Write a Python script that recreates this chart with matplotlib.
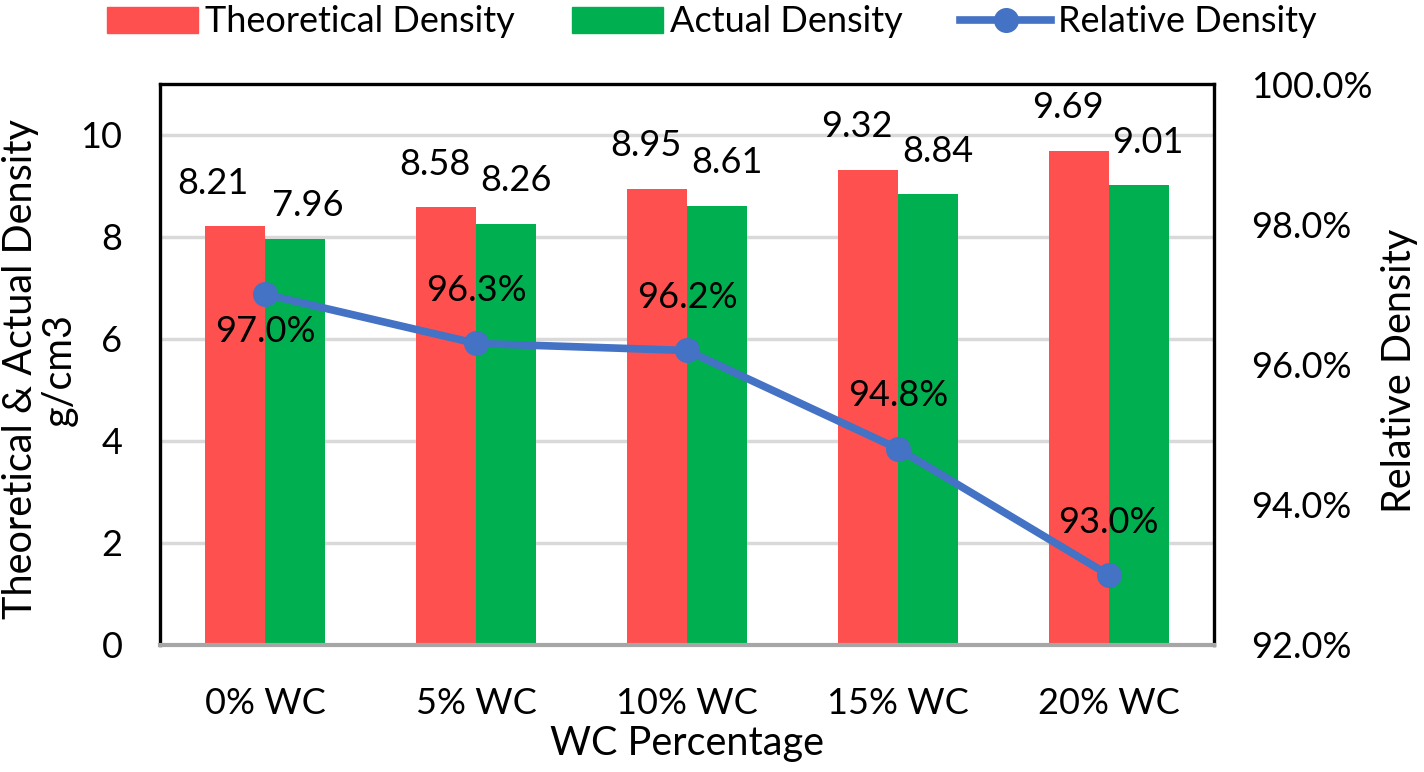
import matplotlib
matplotlib.use("Agg")
import matplotlib.pyplot as plt
import numpy as np
from matplotlib.lines import Line2D
from matplotlib.patches import Patch

categories = ["0% WC", "5% WC", "10% WC", "15% WC", "20% WC"]
theoretical = [8.21, 8.58, 8.95, 9.32, 9.69]
actual = [7.96, 8.26, 8.61, 8.84, 9.01]
relative = [97.0, 96.3, 96.2, 94.8, 93.0]

plt.rcParams['font.family'] = ['Lato', 'DejaVu Sans']
FS = 26
FS_LEG = 26
FS_TITLE = 28.5

RED = "#FF5050"
GREEN = "#00B050"
BLUE = "#4472C4"

fig = plt.figure(figsize=(14.24, 7.72), dpi=100)
ax = fig.add_axes([160/1424, 1-645/772, (1214-160)/1424, (645-84)/772])
x = np.arange(len(categories))
w = 0.285

ax.set_xlim(-0.5, len(categories)-0.5)
ax.set_ylim(0, 11)
ax.set_yticks([0, 2, 4, 6, 8, 10])
for yv in [2, 4, 6, 8, 10]:
    ax.axhline(yv, color="#D9D9D9", lw=2.5, zorder=0)

ax.bar(x - w/2, theoretical, w, color=RED, zorder=2)
ax.bar(x + w/2, actual, w, color=GREEN, zorder=2)

for i, v in enumerate(theoretical):
    dx = -16 if i == 0 else -8
    ax.annotate(f"{v:.2f}", (x[i]-w/2, v), xytext=(dx, 31), textcoords="offset points",
                ha="center", va="center", fontsize=FS)
for i, v in enumerate(actual):
    dx = 9 if i == 0 else 7
    dy = 24 if i == 0 else 31
    ax.annotate(f"{v:.2f}", (x[i]+w/2, v), xytext=(dx, dy), textcoords="offset points",
                ha="center", va="center", fontsize=FS)

ax.set_xticks(x)
ax.set_xticklabels(categories, fontsize=FS)
ax.tick_params(axis="x", length=0, pad=30)
ax.tick_params(axis="y", length=0, pad=27, labelsize=FS)
for s in ["top", "left", "right"]:
    ax.spines[s].set_color("black")
    ax.spines[s].set_linewidth(2.4)
ax.spines["bottom"].set_color("#A6A6A6")
ax.spines["bottom"].set_linewidth(3)
ax.set_xlabel("WC Percentage", fontsize=FS_TITLE, labelpad=4)
ax.set_ylabel("Theoretical & Actual Density\ng/cm3", fontsize=FS_TITLE, linespacing=1.05)
ax.yaxis.label.set_va("center")
ax.yaxis.set_label_coords((40-160)/1054, (645-369)/561)

ax2 = ax.twinx()
ax2.set_ylim(92, 100)
ax2.set_yticks([92, 94, 96, 98, 100])
ax2.set_yticklabels([f"{t:.1f}%" for t in [92, 94, 96, 98, 100]], fontsize=FS)
ax2.tick_params(axis="y", length=0, pad=27)
for s in ["top", "left", "right", "bottom"]:
    ax2.spines[s].set_visible(False)
ax2.plot(x, relative, color=BLUE, lw=5.5, marker="o", ms=17, zorder=5)
for i, v in enumerate(relative):
    dy = -27 if i == 0 else 38
    ax2.annotate(f"{v:.1f}%", (x[i], v), xytext=(0, dy), textcoords="offset points",
                 ha="center", va="center", fontsize=FS)
ax2.set_ylabel("Relative Density", fontsize=FS_TITLE)
ax2.yaxis.label.set_va("center")
ax2.yaxis.set_label_coords((1400-160)/1054, (645-371)/561)

handles = [Patch(color=RED), Patch(color=GREEN),
           Line2D([0], [0], color=BLUE, lw=5.5, marker="o", ms=17)]
fig.legend(handles, ["Theoretical Density", "Actual Density", "Relative Density"],
           loc="center", bbox_to_anchor=(0.5, 1-22/772), ncol=3, frameon=False,
           fontsize=FS_LEG, handlelength=2.5, handleheight=0.7, columnspacing=1.6,
           handletextpad=0.2)

fig.savefig("out.png", dpi=100)
